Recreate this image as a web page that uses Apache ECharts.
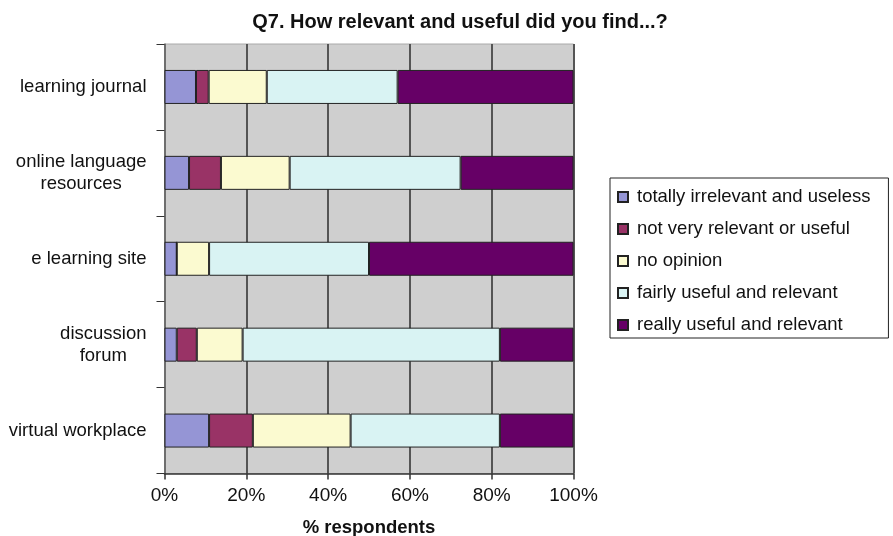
<!DOCTYPE html>
<html>
<head>
<meta charset="utf-8">
<script src="https://cdn.jsdelivr.net/npm/echarts@6/dist/echarts.min.js"></script>
<style>html,body{margin:0;padding:0;background:#fff}#c{width:893px;height:536px}</style>
</head>
<body>
<div id="c"></div>
<script>
const categories = ['learning journal', 'online language\nresources', 'e learning site', 'discussion\nforum', 'virtual workplace'];
const seriesNames = ['totally irrelevant and useless', 'not very relevant or useful', 'no opinion', 'fairly useful and relevant', 'really useful and relevant'];
const irrelevant = [7.7, 6.0, 3.0, 3.0, 10.9];
const notVery = [3.1, 7.8, 0, 4.9, 10.7];
const noOpinion = [14.2, 16.8, 7.9, 11.2, 23.9];
const fairly = [32.0, 41.8, 39.1, 62.9, 36.5];
const really = [43.0, 27.6, 50.0, 18.0, 18.0];
const xTicks = [0, 20, 40, 60, 80, 100];

const colors = ['#9595d5', '#993366', '#fbfad0', '#d9f3f3', '#660066'];
const values = [irrelevant, notVery, noOpinion, fairly, really];
const FONT = '"Liberation Sans", Arial, Helvetica, sans-serif';

const chart = echarts.init(document.getElementById('c'), null, {renderer: 'canvas'});
chart.setOption({
  animation: false,
  backgroundColor: '#fff',
  textStyle: {fontFamily: FONT},
  title: {
    text: 'Q7. How relevant and useful did you find...?',
    left: 455, top: 7, textAlign: 'center',
    textStyle: {fontFamily: FONT, fontSize: 20, fontWeight: 'bold', color: '#111'}
  },
  legend: {
    orient: 'vertical', left: 610, top: 178,
    data: seriesNames,
    icon: 'rect', itemWidth: 10, itemHeight: 10, itemGap: 12,
    padding: [9, 18, 3, 7],
    borderColor: '#222', borderWidth: 1, borderRadius: 0,
    textStyle: {fontFamily: FONT, fontSize: 18.5, color: '#111', lineHeight: 20, padding: [0, 0, 0, 4]}
  },
  grid: {
    left: 164.5, right: 319.5, top: 44, bottom: 62.5,
    containLabel: false, outerBoundsMode: 'none',
    show: true, backgroundColor: '#cfcfcf', borderColor: '#aaa', borderWidth: 1
  },
  xAxis: {
    type: 'value', min: 0, max: 100, interval: 20,
    name: '% respondents', nameLocation: 'middle', nameGap: 45,
    nameTextStyle: {fontFamily: FONT, fontSize: 18.5, fontWeight: 'bold', color: '#111'},
    axisLine: {show: true, lineStyle: {color: '#333', width: 1.5}},
    axisTick: {show: true, length: 6, lineStyle: {color: '#333', width: 1.5}},
    axisLabel: {fontFamily: FONT, fontSize: 19, color: '#111', margin: 13,
      formatter: v => xTicks.includes(v) ? v + '%' : ''},
    splitLine: {show: true, lineStyle: {color: '#555', width: 2}}
  },
  yAxis: {
    type: 'category', data: categories, inverse: true,
    axisLine: {show: true, lineStyle: {color: '#777', width: 1.5}},
    axisTick: {show: true, length: 8, lineStyle: {color: '#333', width: 1}},
    axisLabel: {
      fontFamily: FONT, fontSize: 18.5, color: '#111', margin: 18, align: 'right',
      formatter: v => v.split('\n').map(l => '{c|' + l + '}').join('\n'),
      rich: {c: {align: 'center', fontFamily: FONT, fontSize: 18.5, color: '#111', lineHeight: 22}}
    },
    splitLine: {show: false}
  },
  series: values.map((arr, i) => ({
    name: seriesNames[i], type: 'bar', stack: 'total',
    barWidth: 34,
    data: arr,
    itemStyle: {color: colors[i], borderColor: '#222', borderWidth: 1}
  }))
});
</script>
</body>
</html>
